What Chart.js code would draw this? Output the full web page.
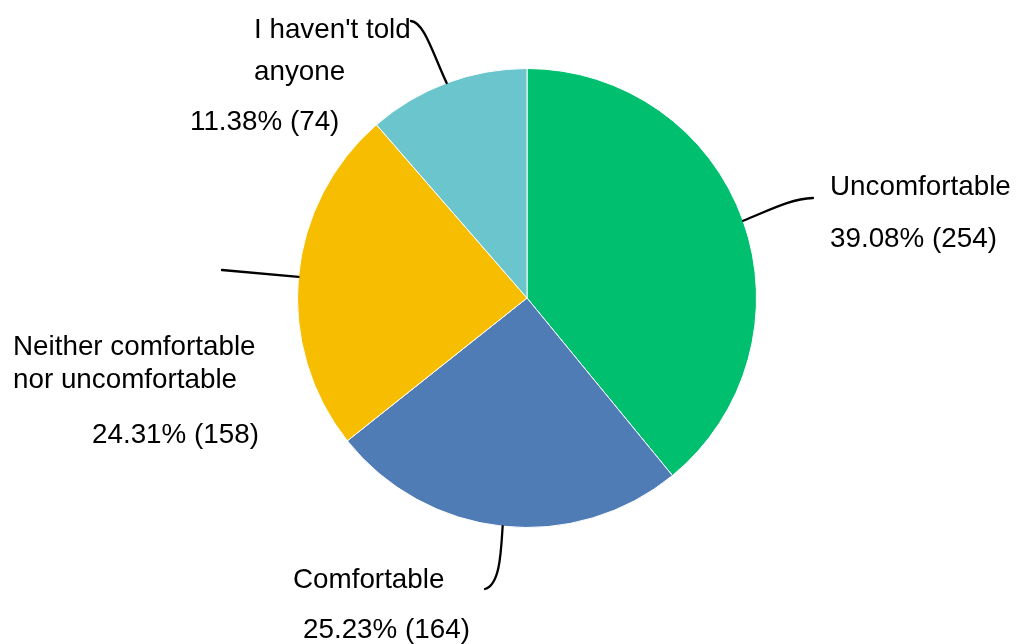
<!DOCTYPE html>
<html>
    <head>
        <meta charset="UTF-8">
        <title>Comfort</title>
        <script src="https://cdn.jsdelivr.net/npm/chart.js@4.4.1/dist/chart.umd.min.js"></script>
        <style>
            html, body { margin: 0; padding: 0; background: #fff; }
            #container { width: 1016px; height: 644px; }
        </style>
    </head>
    <body>
        <div id="container">
            <canvas id="comfortCanvas" width="1016" height="644"></canvas>
        </div>

        <script type="text/javascript">
            var answerLabels = [
                ['Uncomfortable'],
                ['Comfortable'],
                ['Neither comfortable', 'nor uncomfortable'],
                ["I haven't told", 'anyone']
            ];
            var answerCounts = [254, 164, 158, 74];
            var answerColors = ['#00bf6f', '#507cb6', '#f7bd00', '#6bc5cc'];

            // where each callout sits: label lines, percentage line, leader curve end
            var callouts = [
                { x: 830, y: [195], pctX: 830, pctY: 247, curve: [770, 210, 790, 199, 813, 198] },
                { x: 293, y: [588], pctX: 303, pctY: 638, curve: [501, 552, 500, 585, 485, 589] },
                { x: 13, y: [355, 388], pctX: 92, pctY: 443, curve: null, end: [222, 270] },
                { x: 254, y: [38, 80], pctX: 190, pctY: 130, curve: [433, 54, 424, 22, 411, 21] }
            ];

            var total = answerCounts.reduce(function (a, b) { return a + b; }, 0);

            var calloutPlugin = {
                id: 'callouts',
                afterDraw: function (chart) {
                    var ctx = chart.ctx;
                    var arcs = chart.getDatasetMeta(0).data;
                    ctx.save();
                    ctx.font = '27.8px "Liberation Sans", Arial, sans-serif';
                    ctx.fillStyle = '#000';
                    ctx.textAlign = 'left';
                    ctx.textBaseline = 'alphabetic';
                    ctx.strokeStyle = '#000';
                    ctx.lineWidth = 2.3;
                    ctx.lineCap = 'round';

                    arcs.forEach(function (arc, i) {
                        var c = callouts[i];
                        var mid = (arc.startAngle + arc.endAngle) / 2;
                        var sx = arc.x + Math.cos(mid) * arc.outerRadius;
                        var sy = arc.y + Math.sin(mid) * arc.outerRadius;

                        ctx.beginPath();
                        ctx.moveTo(sx, sy);
                        if (c.curve) {
                            ctx.bezierCurveTo(c.curve[0], c.curve[1], c.curve[2], c.curve[3], c.curve[4], c.curve[5]);
                        } else {
                            ctx.lineTo(c.end[0], c.end[1]);
                        }
                        ctx.stroke();

                        answerLabels[i].forEach(function (line, j) {
                            ctx.fillText(line, c.x, c.y[j]);
                        });
                        var pct = (answerCounts[i] / total * 100).toFixed(2);
                        ctx.fillText(pct + '% (' + answerCounts[i] + ')', c.pctX, c.pctY);
                    });
                    ctx.restore();
                }
            };

            var ctx = document.getElementById('comfortCanvas').getContext('2d');
            window.comfortChart = new Chart(ctx, {
                type: 'pie',
                data: {
                    labels: answerLabels.map(function (l) { return l.join(' '); }),
                    datasets: [{
                        data: answerCounts,
                        backgroundColor: answerColors,
                        borderColor: '#ffffff',
                        borderWidth: 1
                    }]
                },
                options: {
                    responsive: false,
                    animation: false,
                    events: [],
                    layout: {
                        padding: { left: 297, right: 259, top: 68, bottom: 116 }
                    },
                    plugins: {
                        legend: { display: false },
                        tooltip: { enabled: false }
                    }
                },
                plugins: [calloutPlugin]
            });
        </script>
    </body>
</html>
